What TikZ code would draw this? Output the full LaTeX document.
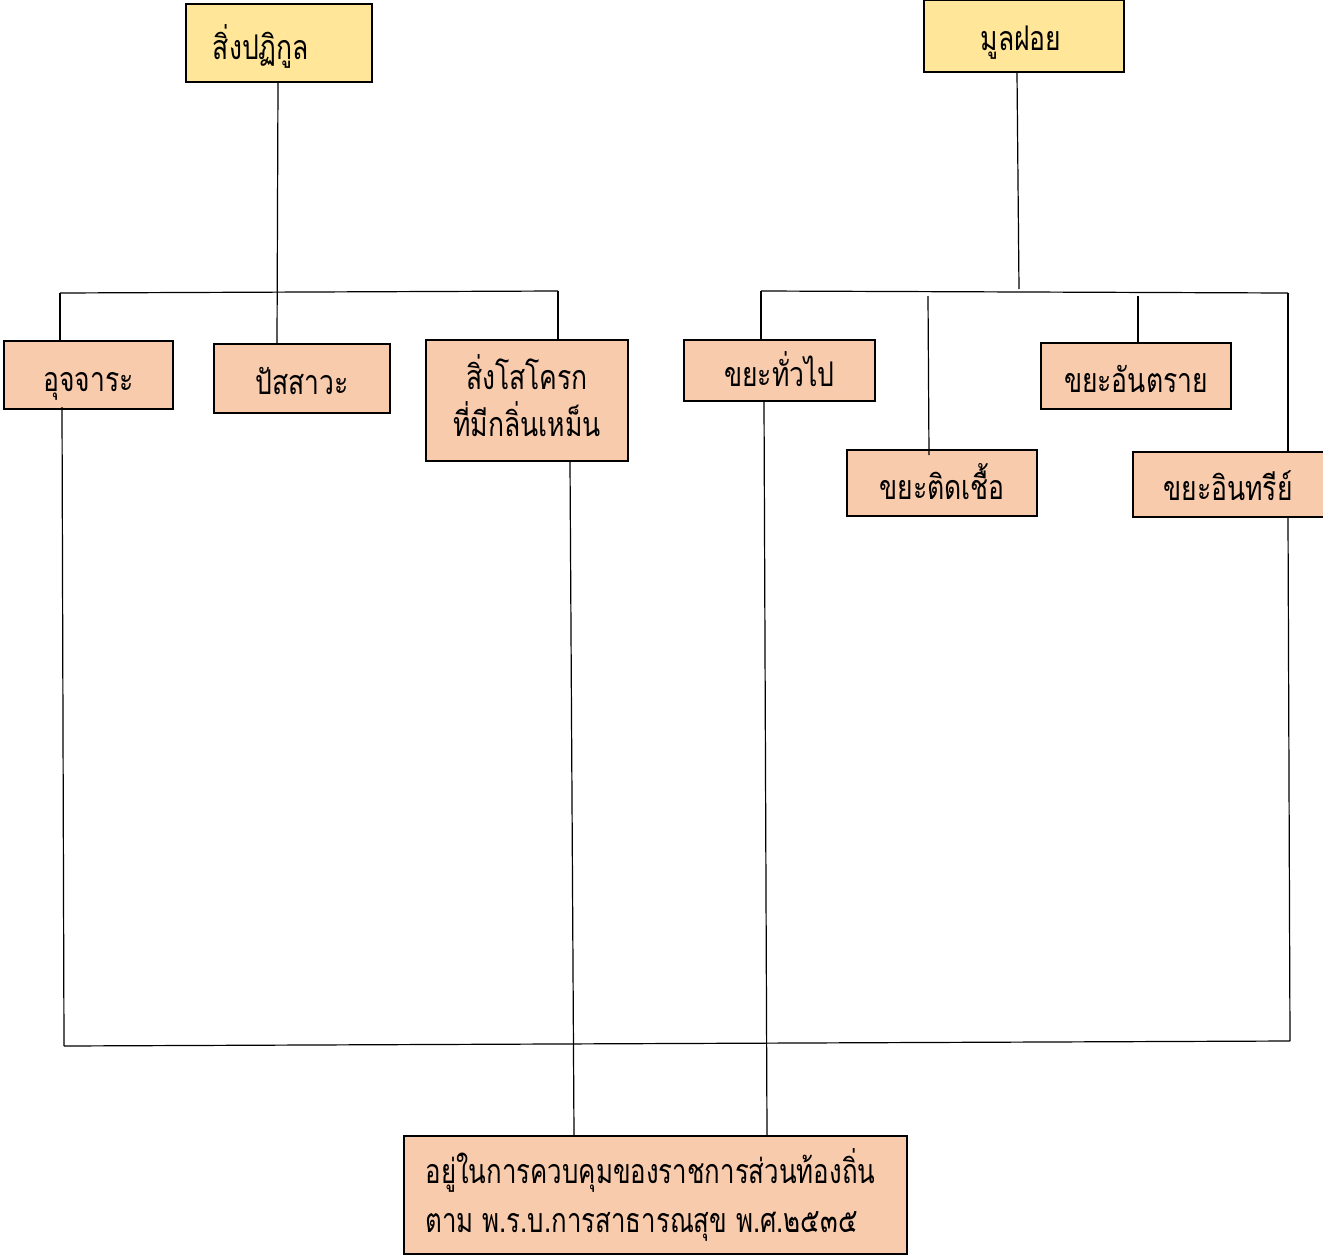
\documentclass[tikz,border=0pt]{standalone}
\usepackage{fontspec}
\newfontfamily\thaifont[Script=Thai,FakeStretch=0.78]{Loma}
\newfontfamily\thaifontb[Script=Thai,FakeStretch=0.76]{Loma}
\definecolor{yel}{HTML}{FFE699}
\definecolor{org}{HTML}{F8CBAD}
\begin{document}
\begin{tikzpicture}[x=1pt,y=-1pt,
  box/.style={draw=black, line width=2pt, inner sep=0pt, font=\thaifont\fontsize{34}{47}\selectfont, align=center},
  one/.style={text height=34pt, text depth=2pt},
  topbox/.style={box, one, fill=yel},
  subbox/.style={box, fill=org},
  conn/.style={line width=1.2pt}]
\useasboundingbox (0,0) rectangle (1323,1258);
% top
\node[topbox, minimum width=186pt, minimum height=78pt] (n1) at (279,43) {สิ่งปฏิกูล\hspace*{36pt}};
\node[topbox, minimum width=200pt, minimum height=72pt, text height=30pt] (n2) at (1024,36) {มูลฝอย\hspace*{6pt}};
% left group
\node[subbox, one, minimum width=169pt, minimum height=68pt] (a) at (88.5,375) {อุจจาระ};
\node[subbox, one, minimum width=176pt, minimum height=69pt] (b) at (302,378.5) {ปัสสาวะ};
\node[subbox, minimum width=202pt, minimum height=121pt, text depth=10pt] (c) at (527,400.5) {สิ่งโสโครก\\ที่มีกลิ่นเหม็น};
% right group
\node[subbox, one, minimum width=191pt, minimum height=61pt] (d) at (779.5,370.5) {ขยะทั่วไป};
\node[subbox, one, minimum width=190pt, minimum height=66pt] (e) at (942,483) {ขยะติดเชื้อ};
\node[subbox, one, minimum width=190pt, minimum height=66pt] (f) at (1136,376) {ขยะอันตราย};
\node[subbox, one, minimum width=194pt, minimum height=65pt] (g) at (1230,484.5) {\hspace*{-4pt}ขยะอินทรีย์};
% bottom
\node[subbox, minimum width=503pt, minimum height=118pt, align=left, font=\thaifontb\fontsize{34}{49}\selectfont] (z) at (655.5,1195) {อยู่ในการควบคุมของราชการส่วนท้องถิ่น\hspace*{10pt}\\ตาม พ.ร.บ.การสาธารณสุข พ.ศ.๒๕๓๕};
% left bus
\coordinate (L0) at (278,0);
\coordinate (L0b) at (277,0);
\coordinate (L1) at (60,293);
\coordinate (L2) at (558,291);
\draw[conn] (n1.south -| L0) -- (L0b |- b.north);
\draw[conn] (L1) -- (L2);
\draw[conn] (L1) -- (L1 |- a.north);
\draw[conn] (L2) -- (L2 |- c.north);
% right bus
\coordinate (R0) at (1017,0);
\coordinate (R1) at (761,291);
\coordinate (R2) at (1288,293);
\coordinate (RB) at (1019,289);
\coordinate (E0) at (928,296);
\coordinate (E1) at (929,0);
\coordinate (F0) at (1138,296);
\draw[conn] (n2.south -| R0) -- (RB);
\draw[conn] (R1) -- (R2);
\draw[conn] (R1) -- (R1 |- d.north);
\draw[conn] (E0) -- ([yshift=-6pt]E1 |- e.north);
\draw[conn] (F0) -- (F0 |- f.north);
\draw[conn] (R2) -- (R2 |- g.north);
% bottom bus
\coordinate (B1) at (64,1046);
\coordinate (B2) at (1290,1041);
\coordinate (A0) at (62,0);
\coordinate (C0) at (570,0);
\coordinate (C1) at (574,0);
\coordinate (D0) at (764,0);
\coordinate (D1) at (767,0);
\draw[conn] ([yshift=3pt]a.south -| A0) -- (B1);
\draw[conn] (B1) -- (B2);
\draw[conn] (g.south -| R2) -- (B2);
\draw[conn] (c.south -| C0) -- (C1 |- z.north);
\draw[conn] (d.south -| D0) -- (D1 |- z.north);
\end{tikzpicture}
\end{document}
